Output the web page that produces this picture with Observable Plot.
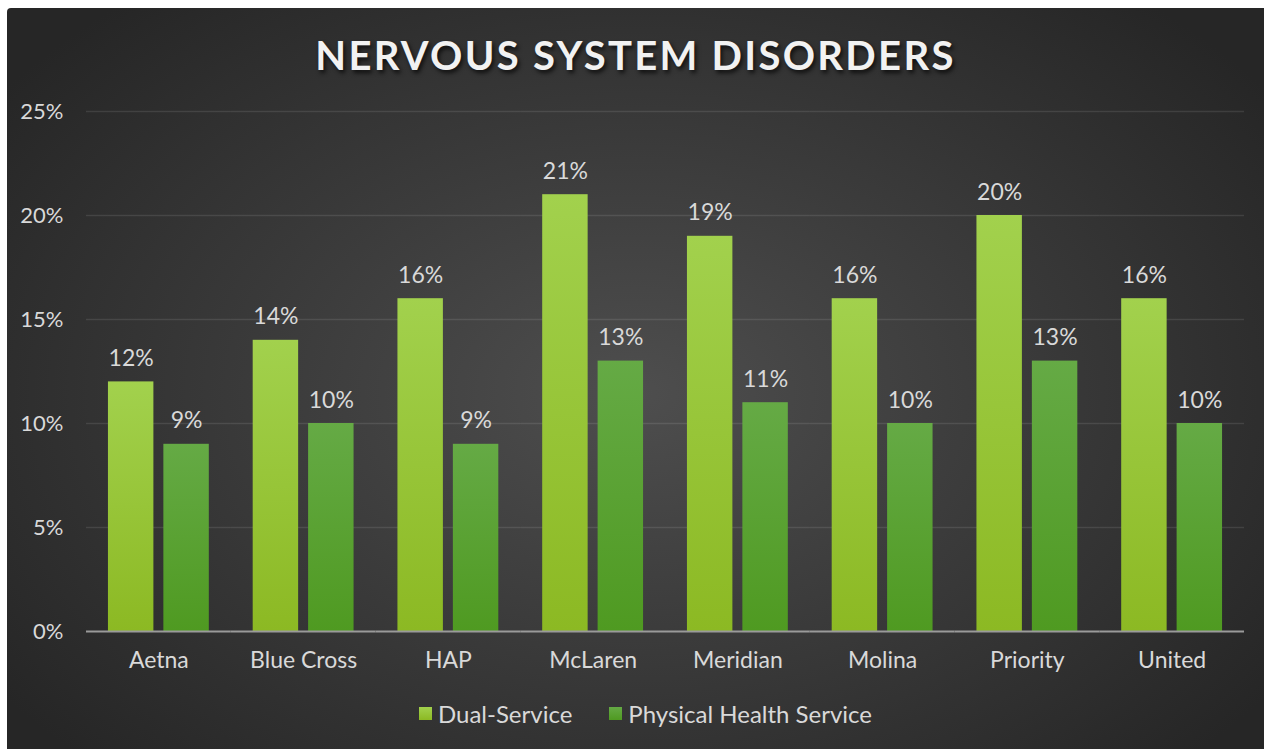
<!DOCTYPE html>
<html>
<head>
<meta charset="utf-8">
<script src="https://cdn.jsdelivr.net/npm/d3@7"></script>
<script src="https://cdn.jsdelivr.net/npm/@observablehq/plot@0.6"></script>
<style>
  html, body { margin: 0; padding: 0; background: #ffffff; width: 1264px; height: 749px; overflow: hidden; }
  #card {
    position: absolute; left: 7px; top: 8px; width: 1257px; height: 741px;
    border-top-left-radius: 4px;
    background: radial-gradient(ellipse 62% 70% at 50% 52%, #4e4e4e 0%, #3c3c3c 45%, #262626 100%);
    font-family: Lato, "Noto Sans", sans-serif;
    overflow: hidden;
  }
  #title {
    height: 94px; line-height: 94px; text-align: center;
    font-size: 40px; font-weight: 700; color: #f2f2f2; letter-spacing: 2.3px;
    text-shadow: 2px 3px 4px rgba(0,0,0,0.7);
  }
  #legend {
    position: absolute; left: 0; width: 100%; top: 688px; height: 34px;
    display: flex; justify-content: center; align-items: center; gap: 37px;
    font-size: 24px; color: #d9d9d9;
    padding-left: 10px;
  }
  .item { display: flex; align-items: center; gap: 6px; }
  .sw { width: 13px; height: 13px; display: inline-block; }
  svg { display: block; }
</style>
</head>
<body>
<div id="card">
  <div id="title"></div>
  <div id="chart"></div>
  <div id="legend"></div>
</div>
<script>
const titleText = "NERVOUS SYSTEM DISORDERS";
const categories = ["Aetna", "Blue Cross", "HAP", "McLaren", "Meridian", "Molina", "Priority", "United"];
const seriesNames = ["Dual-Service", "Physical Health Service"];
const dualService = [12, 14, 16, 21, 19, 16, 20, 16];
const physicalHealth = [9, 10, 9, 13, 11, 10, 13, 10];
const yTicks = [0, 5, 10, 15, 20, 25];

document.getElementById("title").textContent = titleText;

const data = [];
categories.forEach((c, i) => {
  data.push({category: c, series: seriesNames[0], value: dualService[i]});
  data.push({category: c, series: seriesNames[1], value: physicalHealth[i]});
});

const gradId = s => s === seriesNames[0] ? "url(#gDual)" : "url(#gPhys)";
const font = "Lato, 'Noto Sans', sans-serif";

const chart = Plot.plot({
  width: 1257,
  height: 586,
  marginLeft: 79,
  marginRight: 20,
  marginTop: 9,
  marginBottom: 57,
  style: {background: "transparent", color: "#d9d9d9", fontFamily: font, fontSize: "23px", overflow: "visible"},
  fx: {domain: categories, padding: 0, round: false, label: null, axis: "bottom", tickSize: 0, tickPadding: 20},
  x: {domain: seriesNames, paddingInner: 0.18, paddingOuter: 0.396, round: false, axis: null},
  y: {domain: [0, 25], ticks: yTicks, label: null, tickSize: 0, tickPadding: 23, tickFormat: d => d + "%"},
  marks: [
    Plot.gridY(yTicks.filter(t => t > 0), {stroke: "#ffffff", strokeOpacity: 0.1, strokeWidth: 1.5}),
    Plot.axisY({ticks: yTicks, tickSize: 0, tickPadding: 23, tickFormat: d => d + "%", label: null, fontSize: 22}),
    Plot.barY(data, {fx: "category", x: "series", y: "value", fill: d => gradId(d.series), style: {filter: "drop-shadow(2px 1px 2px rgba(0,0,0,0.35))"}}),
    Plot.text(data, {fx: "category", x: "series", y: "value", text: d => d.value + "%", lineAnchor: "bottom", dy: -16, fill: "#d9d9d9", fontSize: 23}),
    Plot.ruleY([0], {stroke: "#9a9a9a", strokeWidth: 2})
  ]
});

const defs = d3.create("svg:defs");
const g1 = defs.append("linearGradient").attr("id", "gDual").attr("x1", 0).attr("y1", 0).attr("x2", 0).attr("y2", 1);
g1.append("stop").attr("offset", "0%").attr("stop-color", "#a2d14d");
g1.append("stop").attr("offset", "100%").attr("stop-color", "#8cb923");
const g2 = defs.append("linearGradient").attr("id", "gPhys").attr("x1", 0).attr("y1", 0).attr("x2", 0).attr("y2", 1);
g2.append("stop").attr("offset", "0%").attr("stop-color", "#65aa45");
g2.append("stop").attr("offset", "100%").attr("stop-color", "#4f9a21");
chart.insertBefore(defs.node(), chart.firstChild);

document.getElementById("chart").appendChild(chart);

const legend = document.getElementById("legend");
seriesNames.forEach((s, i) => {
  const item = document.createElement("span");
  item.className = "item";
  const sw = document.createElement("span");
  sw.className = "sw";
  sw.style.background = i === 0 ? "linear-gradient(#a2d14d,#8cb923)" : "linear-gradient(#65aa45,#4f9a21)";
  const t = document.createElement("span");
  t.textContent = s;
  item.appendChild(sw); item.appendChild(t);
  legend.appendChild(item);
});
</script>
</body>
</html>
